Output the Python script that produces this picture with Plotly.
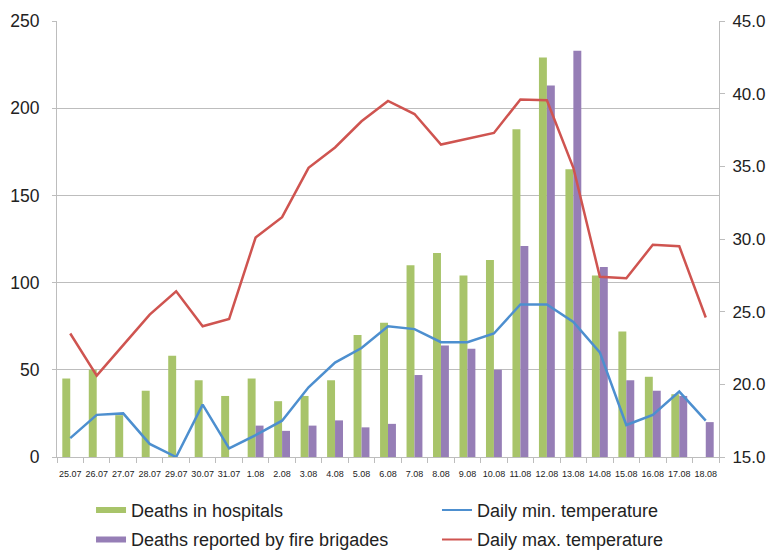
import plotly.graph_objects as go

# Dates (day.month)
dates = ["25.07", "26.07", "27.07", "28.07", "29.07", "30.07", "31.07",
         "1.08", "2.08", "3.08", "4.08", "5.08", "6.08", "7.08", "8.08",
         "9.08", "10.08", "11.08", "12.08", "13.08", "14.08", "15.08",
         "16.08", "17.08", "18.08"]

# Death counts
deaths_hospitals = [45, 50, 24, 38, 58, 44, 35, 45, 32, 35, 44, 70, 77, 110,
                    117, 104, 113, 188, 229, 165, 104, 72, 46, 36, None]
deaths_fire = [None, None, None, None, None, None, None, 18, 15, 18, 21, 17,
               19, 47, 64, 62, 50, 121, 213, 233, 109, 44, 38, 35, 20]

# Daily temperatures (°C)
temp_min = [16.3, 17.9, 18.0, 15.9, 15.0, 18.6, 15.6, 16.5, 17.5, 19.8, 21.5,
            22.5, 24.0, 23.8, 22.9, 22.9, 23.5, 25.5, 25.5, 24.3, 22.2, 17.2,
            17.9, 19.5, 17.5]
temp_max = [23.5, 20.6, 22.7, 24.8, 26.4, 24.0, 24.5, 30.1, 31.5, 34.9, 36.3,
            38.1, 39.5, 38.6, 36.5, 36.9, 37.3, 39.6, 39.55, 34.9, 27.4, 27.3,
            29.6, 29.5, 24.6]

GREEN = "#A8C46A"
PURPLE = "#967EB6"
BLUE = "#4D8FCF"
RED = "#CF5450"
GRID = "#BDBDBD"
TEXT = "#222222"
FONT = "Liberation Sans, Arial, sans-serif"

fig = go.Figure()

fig.add_trace(go.Bar(x=dates, y=deaths_hospitals, marker_color=GREEN,
                     marker_line_width=0, showlegend=False))
fig.add_trace(go.Bar(x=dates, y=deaths_fire, marker_color=PURPLE,
                     marker_line_width=0, showlegend=False))
fig.add_trace(go.Scatter(x=dates, y=temp_min, mode="lines", yaxis="y2",
                         line=dict(color=BLUE, width=2.5), showlegend=False))
fig.add_trace(go.Scatter(x=dates, y=temp_max, mode="lines", yaxis="y2",
                         line=dict(color=RED, width=2.5), showlegend=False))

# Legend entries (flat swatches for the bar series)
legend_items = [
    ("Deaths in hospitals", GREEN, 6, "legend", "a"),
    ("Deaths reported by fire brigades", PURPLE, 6, "legend", "b"),
    ("Daily min. temperature", BLUE, 2, "legend2", "c"),
    ("Daily max. temperature", RED, 2, "legend2", "d"),
]
for name, color, width, leg, grp in legend_items:
    fig.add_trace(go.Scatter(x=[None], y=[None], mode="lines", name=name,
                             line=dict(color=color, width=width),
                             legend=leg, legendgroup=grp))

legend_common = dict(orientation="v", yref="container", yanchor="top",
                     y=0.109, traceorder="grouped", tracegroupgap=3,
                     font=dict(family=FONT, size=18, color=TEXT),
                     bgcolor="rgba(0,0,0,0)", itemwidth=30)

fig.update_layout(
    width=771, height=552,
    margin=dict(l=57, r=52, t=21, b=95, autoexpand=False),
    paper_bgcolor="white", plot_bgcolor="white",
    barmode="group", bargap=0.4, bargroupgap=0,
    font=dict(family=FONT, color=TEXT),
    xaxis=dict(
        type="category", tickmode="array", tickvals=dates, ticktext=dates,
        tickson="boundaries", ticks="outside", ticklen=5, tickcolor=GRID,
        showline=True, linecolor=GRID, linewidth=1, showgrid=False,
        tickfont=dict(family=FONT, size=9, color=TEXT),
        tickangle=0, range=[-0.5, len(dates) - 0.5],
        ticklabelstandoff=8, automargin=False,
    ),
    yaxis=dict(
        range=[0, 250], dtick=50, tick0=0, showgrid=True, gridcolor=GRID,
        gridwidth=1, showline=True, linecolor=GRID, linewidth=1,
        ticks="outside", ticklen=4, tickcolor=GRID, zeroline=False,
        tickfont=dict(family=FONT, size=17.5, color=TEXT),
        ticklabelstandoff=9, automargin=False,
    ),
    yaxis2=dict(
        range=[15, 45], dtick=5, tick0=15, overlaying="y", side="right",
        showgrid=False, showline=True, linecolor=GRID, linewidth=1,
        ticks="outside", ticklen=5, tickcolor=GRID, zeroline=False,
        tickformat=".1f",
        tickfont=dict(family=FONT, size=17, color=TEXT),
        ticklabelstandoff=4, automargin=False,
    ),
    legend=dict(x=0.0514, **legend_common),
    legend2=dict(x=0.574, **legend_common),
)

fig.write_html("out.html")
